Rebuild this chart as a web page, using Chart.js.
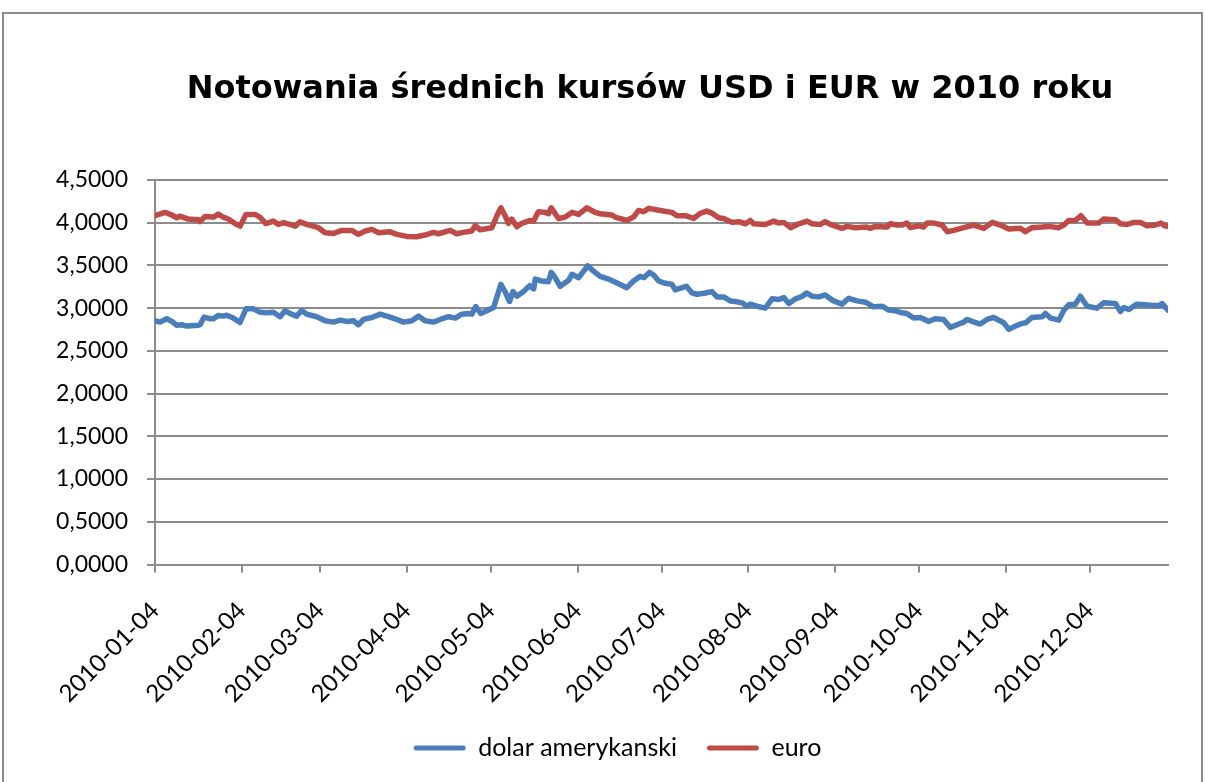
<!DOCTYPE html>
<html lang="pl">
<head>
<meta charset="utf-8">
<title>Notowania średnich kursów USD i EUR w 2010 roku</title>
<script src="https://cdn.jsdelivr.net/npm/chart.js@4.4.1/dist/chart.umd.min.js"></script>
<style>
    html, body { margin: 0; padding: 0; background: #fff; }
    #wrap { position: relative; width: 1205px; height: 782px; }
</style>
</head>
<body>
<div id="wrap"><canvas id="kursy" width="1205" height="782"></canvas></div>
<script>
// ==========================================
// Data (x = days counted from 2010-01-04)
// ==========================================

const TITLE = 'Notowania średnich kursów USD i EUR w 2010 roku';

const TICK_DAYS = [0, 31, 59, 90, 120, 151, 181, 212, 243, 273, 304, 334];
const TICK_LABELS = ['2010-01-04', '2010-02-04', '2010-03-04', '2010-04-04', '2010-05-04', '2010-06-04',
    '2010-07-04', '2010-08-04', '2010-09-04', '2010-10-04', '2010-11-04', '2010-12-04'];

const SERIES_NAMES = ['dolar amerykanski', 'euro'];

const usdDays = [
    0, 1.8, 4.2, 6, 7.8, 9.5, 11.3, 15.5, 16.1, 17.5,
    19.7, 20.9, 22.6, 24.4, 25.6, 28, 30.4, 32.5, 35.2, 37.5,
    39.9, 42.3, 44.7, 46.5, 48.2, 50.6, 52.4, 54.2, 57.8, 60.8,
    63.8, 66.2, 68.5, 70.9, 72.7, 74.5, 77.5, 80.5, 83.4, 85.8,
    88.8, 91.8, 94.2, 96.5, 99.5, 101.9, 104.9, 107.3, 109.6, 112,
    113.2, 114.6, 116.4, 121, 123.6, 125.1, 126.7, 127.9, 129.3, 131.7,
    133.9, 135.3, 135.9, 138.2, 140.6, 141.6, 143, 144.8, 147.8, 149,
    151.4, 154.6, 156.7, 159.1, 162.1, 165.1, 168.6, 171, 173.4, 174.8,
    176.7, 178.2, 180, 182.3, 184.7, 185.9, 188.3, 189.9, 191.9, 193.7,
    196.7, 199, 200.8, 203.2, 205.6, 207.4, 209.8, 211.5, 212.7, 215.1,
    218.1, 220.5, 222.9, 224.7, 226.5, 228.9, 231.3, 232.8, 234.8, 237.2,
    239.5, 242.5, 245.5, 247.9, 250.9, 253.9, 256.8, 259.8, 262.2, 264.6,
    267, 268.7, 271.1, 273.5, 276.5, 278.8, 281.8, 284.2, 286.6, 289,
    290.2, 292, 294.9, 297.3, 299.7, 303.3, 305.1, 307.5, 309.9, 311.1,
    313.4, 317, 318.2, 320, 323, 324.8, 326.5, 328.9, 330.7, 333.1,
    336.6, 339, 343.2, 345, 346.2, 348, 350.9, 353.9, 356.9, 358.7,
    359.9, 362
];
const usdRates = [
    2.853, 2.837, 2.876, 2.845, 2.800, 2.806, 2.790, 2.800, 2.806, 2.895,
    2.876, 2.876, 2.915, 2.907, 2.918, 2.884, 2.833, 2.992, 2.992, 2.953,
    2.946, 2.953, 2.900, 2.969, 2.938, 2.907, 2.973, 2.930, 2.900, 2.853,
    2.837, 2.860, 2.845, 2.853, 2.806, 2.868, 2.891, 2.930, 2.900, 2.876,
    2.837, 2.853, 2.907, 2.853, 2.837, 2.868, 2.900, 2.884, 2.930, 2.938,
    2.930, 3.019, 2.938, 3.008, 3.279, 3.194, 3.078, 3.194, 3.140, 3.194,
    3.264, 3.225, 3.341, 3.318, 3.310, 3.419, 3.357, 3.256, 3.326, 3.396,
    3.357, 3.496, 3.434, 3.372, 3.341, 3.295, 3.240, 3.318, 3.372, 3.357,
    3.419, 3.388, 3.318, 3.291, 3.279, 3.213, 3.240, 3.256, 3.178, 3.163,
    3.178, 3.194, 3.132, 3.132, 3.085, 3.078, 3.062, 3.023, 3.047, 3.023,
    3.000, 3.109, 3.101, 3.124, 3.054, 3.109, 3.140, 3.178, 3.140, 3.132,
    3.155, 3.085, 3.047, 3.116, 3.085, 3.070, 3.016, 3.023, 2.977, 2.969,
    2.946, 2.938, 2.884, 2.891, 2.845, 2.876, 2.868, 2.775, 2.806, 2.837,
    2.868, 2.845, 2.814, 2.868, 2.891, 2.829, 2.752, 2.791, 2.822, 2.829,
    2.891, 2.900, 2.938, 2.884, 2.860, 2.977, 3.039, 3.047, 3.140, 3.023,
    3.000, 3.062, 3.054, 2.961, 3.008, 2.984, 3.047, 3.039, 3.031, 3.031,
    3.054, 2.977
];

const eurDays = [
    0, 3.6, 6, 7.8, 8.9, 11.9, 15.5, 16.1, 17.9, 20.9,
    22.6, 24.4, 26.2, 28.6, 30.4, 32.5, 35.7, 37.5, 39.6, 42.3,
    44.1, 45.9, 48.2, 50.1, 51.8, 54.2, 58.4, 60.8, 63.8, 66.8,
    70.3, 72.7, 75.1, 77.5, 79.9, 84, 86.4, 90, 93.5, 96.5,
    99.5, 101.3, 105.5, 107.8, 110.2, 113.2, 114.4, 116.2, 120.4, 122.2,
    123.6, 125.1, 126.3, 127.5, 129.3, 131.1, 134.1, 135.3, 137, 139.4,
    140.6, 141.6, 144.2, 146.6, 149, 151.4, 154.3, 157.3, 159.1, 163.3,
    164.4, 168.6, 171, 172.8, 174.6, 176.4, 180.5, 184.7, 186.5, 189.5,
    192.5, 194.8, 197.2, 199, 201.4, 203.2, 206.2, 208.6, 211, 212.7,
    213.9, 218.1, 221.1, 222.9, 224.7, 227.1, 229.5, 233, 234.8, 237.8,
    239.5, 241.3, 245.5, 247.3, 250.3, 254.4, 255.6, 257.4, 261.6, 262.8,
    265.2, 267, 268.7, 269.9, 272.9, 274.7, 275.9, 278.3, 281.3, 283.1,
    285.5, 289, 292.6, 296.2, 299.2, 302.1, 305.1, 309.3, 311, 313.4,
    317, 319.4, 323, 324.8, 326.5, 328.9, 330.9, 333.1, 337.2, 339,
    343.2, 345, 347.4, 349.8, 352.1, 354.5, 357.5, 359.5, 360.7, 362
];
const eurRates = [
    4.082, 4.121, 4.090, 4.058, 4.078, 4.043, 4.035, 4.012, 4.074, 4.066,
    4.100, 4.066, 4.043, 3.990, 3.960, 4.097, 4.097, 4.066, 3.990, 4.019,
    3.980, 4.000, 3.980, 3.960, 4.010, 3.980, 3.942, 3.883, 3.875, 3.910,
    3.910, 3.864, 3.903, 3.922, 3.883, 3.895, 3.864, 3.840, 3.836, 3.856,
    3.887, 3.871, 3.910, 3.871, 3.887, 3.903, 3.965, 3.918, 3.942, 4.082,
    4.175, 4.082, 3.992, 4.043, 3.953, 3.992, 4.027, 4.019, 4.129, 4.121,
    4.105, 4.175, 4.050, 4.066, 4.121, 4.097, 4.175, 4.121, 4.105, 4.090,
    4.066, 4.027, 4.066, 4.144, 4.129, 4.168, 4.144, 4.121, 4.082, 4.082,
    4.050, 4.109, 4.136, 4.113, 4.058, 4.050, 4.004, 4.012, 3.988, 4.027,
    3.988, 3.980, 4.019, 3.996, 4.004, 3.942, 3.980, 4.019, 3.988, 3.980,
    4.012, 3.980, 3.934, 3.957, 3.942, 3.949, 3.934, 3.957, 3.949, 3.988,
    3.973, 3.973, 3.996, 3.942, 3.965, 3.949, 3.996, 3.996, 3.973, 3.895,
    3.910, 3.942, 3.973, 3.934, 4.004, 3.973, 3.926, 3.934, 3.895, 3.942,
    3.949, 3.957, 3.942, 3.973, 4.027, 4.027, 4.082, 3.996, 3.996, 4.043,
    4.035, 3.988, 3.980, 4.004, 4.004, 3.965, 3.973, 3.996, 3.965, 3.957
];

// ==========================================
// Style
// ==========================================

const BLUE = '#4a7ebb';
const RED = '#be4b48';
const GRID = '#8c8c8c';

function toPoints(days, rates) {
    return days.map((d, i) => ({ x: d, y: rates[i] }));
}

// Frame of the chart object and the title, as in the spreadsheet chart
const frameAndTitle = {
    id: 'frameAndTitle',
    beforeDraw(chart) {
        const ctx = chart.ctx;
        ctx.save();
        ctx.fillStyle = '#fff';
        ctx.fillRect(0, 0, chart.width, chart.height);
        ctx.strokeStyle = GRID;
        ctx.lineWidth = 2;
        ctx.strokeRect(3, 13, 1199, 800);
        ctx.fillStyle = '#000';
        ctx.font = 'bold 32px "DejaVu Sans"';
        ctx.textAlign = 'center';
        ctx.textBaseline = 'alphabetic';
        ctx.fillText(TITLE, 650, 97.5);
        ctx.restore();
    }
};

const lineStyle = {
    borderWidth: 5.5,
    pointRadius: 0,
    tension: 0,
    borderJoinStyle: 'round',
    borderCapStyle: 'round',
    fill: false
};

new Chart(document.getElementById('kursy'), {
    type: 'line',
    data: {
        datasets: [
            { label: SERIES_NAMES[0], data: toPoints(usdDays, usdRates), borderColor: BLUE, backgroundColor: BLUE, ...lineStyle },
            { label: SERIES_NAMES[1], data: toPoints(eurDays, eurRates), borderColor: RED, backgroundColor: RED, ...lineStyle }
        ]
    },
    options: {
        responsive: false,
        animation: false,
        layout: { padding: { top: 180, left: 45, right: 15, bottom: 11.5 } },
        scales: {
            x: {
                type: 'linear',
                min: 0,
                max: 362,
                afterBuildTicks: (scale) => { scale.ticks = TICK_DAYS.map(v => ({ value: v })); },
                afterFit: (scale) => { scale.height = 141; },
                ticks: {
                    autoSkip: false,
                    minRotation: 45,
                    maxRotation: 45,
                    padding: 24,
                    color: '#000',
                    font: { family: 'Lato', size: 24 },
                    callback: (value) => TICK_LABELS[TICK_DAYS.indexOf(value)]
                },
                grid: { drawOnChartArea: false, drawTicks: true, tickLength: 8, color: GRID, lineWidth: 2 },
                border: { display: true, color: GRID, width: 2 }
            },
            y: {
                min: 0,
                max: 4.5,
                afterFit: (scale) => { scale.width = 110; },
                ticks: {
                    stepSize: 0.5,
                    padding: 19,
                    color: '#000',
                    font: { family: 'Lato', size: 23 },
                    callback: (v) => v.toFixed(4).replace('.', ',')
                },
                grid: { color: GRID, lineWidth: 2, tickLength: 8 },
                border: { display: true, color: GRID, width: 2 }
            },
            // empty strip on the right, keeps the plot edge where the reference has it
            yRight: {
                axis: 'y',
                position: 'right',
                min: 0,
                max: 1,
                afterFit: (scale) => { scale.width = 22; },
                ticks: { display: false },
                grid: { display: false },
                border: { display: false }
            }
        },
        plugins: {
            title: { display: false },
            tooltip: { enabled: false },
            legend: {
                position: 'bottom',
                labels: {
                    boxWidth: 52,
                    boxHeight: 5,
                    padding: 30,
                    color: '#000',
                    font: { family: 'Lato', size: 25 },
                    generateLabels(chart) {
                        const items = Chart.defaults.plugins.legend.labels.generateLabels(chart);
                        items.forEach(it => {
                            it.lineWidth = 0;
                            it.fillStyle = it.strokeStyle;
                            it.borderRadius = 2.5;
                        });
                        return items;
                    }
                }
            }
        }
    },
    plugins: [frameAndTitle]
});
</script>
</body>
</html>
